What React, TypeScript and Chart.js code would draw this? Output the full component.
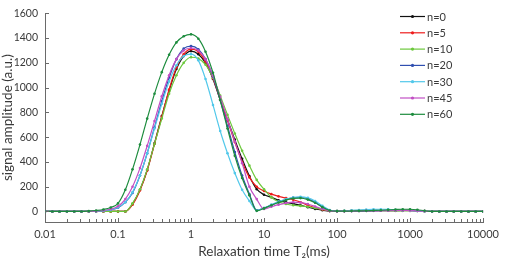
import React, { useEffect, useRef } from "react";
import { Chart, registerables } from "chart.js";
Chart.register(...registerables);

// Relaxation time grid (ms)
const T2 = [
  0.01, 0.0126, 0.0158, 0.02, 0.0251, 0.0316, 0.0398, 0.0501, 0.0631, 0.0794,
  0.1, 0.126, 0.158, 0.2, 0.251, 0.316, 0.398, 0.501, 0.631, 0.794,
  1, 1.26, 1.58, 2, 2.51, 3.16, 3.98, 5.01, 6.31, 7.94,
  10, 12.6, 15.8, 20, 25.1, 31.6, 39.8, 50.1, 63.1, 79.4,
  100, 126, 158, 200, 251, 316, 398, 501, 631, 794,
  1000, 1260, 1580, 2000, 2510, 3160, 3980, 5010, 6310, 7940,
  10000,
];

const N0 = [
  0, 0, 0, 0, 0, 0, 0, 0, 0, 0,
  0, 0, 60, 175, 335, 550, 770, 975, 1150, 1255,
  1295, 1270, 1200, 1070, 900, 740, 580, 425, 285, 180,
  135, 115, 90, 75, 63, 50, 35, 20, 10, 3,
  2, 3, 4, 5, 5, 6, 6, 7, 7, 8,
  8, 6, 3, 0, 0, 0, 0, 0, 0, 0,
  0,
];
const N5 = [
  0, 0, 0, 0, 0, 0, 0, 0, 0, 0,
  0, 0, 55, 170, 330, 545, 765, 985, 1165, 1270,
  1310, 1290, 1210, 1075, 905, 735, 560, 400, 275, 200,
  165, 140, 122, 108, 95, 75, 50, 30, 15, 5,
  3, 4, 6, 8, 9, 10, 10, 10, 10, 10,
  9, 6, 3, 0, 0, 0, 0, 0, 0, 0,
  0,
];
const N10 = [
  0, 0, 0, 0, 0, 0, 0, 0, 0, 0,
  0, 0, 65, 180, 340, 545, 750, 950, 1100, 1200,
  1245, 1235, 1185, 1080, 935, 780, 630, 490, 370, 255,
  180, 115, 78, 60, 50, 45, 38, 28, 18, 6,
  3, 6, 8, 9, 9, 8, 7, 6, 5, 5,
  4, 3, 1, 0, 0, 0, 0, 0, 0, 0,
  0,
];
const N20 = [
  0, 0, 0, 0, 0, 0, 1, 2, 6, 14,
  30, 75, 150, 290, 470, 680, 890, 1080, 1230, 1315,
  1335, 1310, 1230, 1090, 900, 690, 480, 290, 140, 10,
  28, 52, 76, 98, 112, 115, 103, 75, 38, 10,
  3, 3, 4, 5, 6, 7, 8, 9, 10, 10,
  9, 6, 3, 0, 0, 0, 0, 0, 0, 0,
  0,
];
const N30 = [
  0, 0, 0, 0, 0, 0, 1, 2, 6, 14,
  32, 75, 155, 290, 470, 670, 870, 1050, 1180, 1255,
  1270, 1220, 1070, 860, 650, 470, 310, 175, 85, 8,
  28, 55, 80, 100, 113, 118, 110, 85, 45, 12,
  4, 6, 9, 12, 15, 17, 18, 17, 14, 10,
  7, 4, 2, 0, 0, 0, 0, 0, 0, 0,
  0,
];
const N45 = [
  0, 0, 0, 0, 0, 0, 1, 3, 8, 18,
  42, 100, 200, 350, 530, 730, 930, 1100, 1230, 1300,
  1320, 1300, 1230, 1095, 925, 745, 565, 390, 200, 100,
  20, 38, 55, 68, 75, 72, 60, 40, 20, 5,
  2, 2, 3, 4, 5, 5, 6, 7, 8, 8,
  7, 5, 2, 0, 0, 0, 0, 0, 0, 0,
  0,
];
const N60 = [
  0, 0, 0, 0, 0, 0, 3, 8, 16, 32,
  65, 175, 340, 540, 750, 950, 1125, 1265, 1365, 1415,
  1430, 1395, 1290, 1120, 900, 670, 450, 270, 130, 5,
  25, 50, 72, 92, 105, 108, 96, 70, 35, 8,
  3, 3, 4, 5, 6, 8, 10, 13, 16, 18,
  18, 14, 6, 0, 0, 0, 0, 0, 0, 0,
  0,
];

const SERIES_NAMES = ["n=0", "n=5", "n=10", "n=20", "n=30", "n=45", "n=60"];
const SERIES_VALUES = [N0, N5, N10, N20, N30, N45, N60];
const SERIES_COLORS = ["#111111", "#ee1c1c", "#6cc83c", "#2f4fb0", "#52c8ea", "#c24fc4", "#1d8c3e"];

const Y_TICKS = [0, 200, 400, 600, 800, 1000, 1200, 1400, 1600];
const X_MAJOR = [0.01, 0.1, 1, 10, 100, 1000, 10000];
const X_MINOR_MULT = [2, 3, 4, 5, 6, 7, 8, 9];

const FONT = "Lato, 'Open Sans', sans-serif";
const AXIS_COLOR = "#6a6a6a";
const TEXT_COLOR = "#3a3a3a";

const decorPlugin = {
  id: "decor",
  afterDraw(chart: any) {
    const ctx = chart.ctx;
    const xs = chart.scales.x;
    const ys = chart.scales.y;
    const area = chart.chartArea;
    ctx.save();
    ctx.strokeStyle = AXIS_COLOR;
    ctx.lineWidth = 1;
    ctx.beginPath();
    Y_TICKS.forEach((v) => {
      const py = Math.round(ys.getPixelForValue(v)) + 0.5;
      ctx.moveTo(area.left, py);
      ctx.lineTo(area.left + 4, py);
    });
    X_MAJOR.forEach((d, i) => {
      const px = Math.round(xs.getPixelForValue(d)) + 0.5;
      ctx.moveTo(px, area.bottom);
      ctx.lineTo(px, area.bottom - 4);
      if (i < X_MAJOR.length - 1) {
        X_MINOR_MULT.forEach((m) => {
          const qx = Math.round(xs.getPixelForValue(d * m)) + 0.5;
          ctx.moveTo(qx, area.bottom);
          ctx.lineTo(qx, area.bottom - 3);
        });
      }
    });
    ctx.stroke();

    // legend
    const lx1 = 400;
    const lx2 = 425;
    ctx.font = `11px ${FONT}`;
    ctx.textBaseline = "middle";
    ctx.textAlign = "left";
    SERIES_NAMES.forEach((name, k) => {
      const yy = 16.5 + k * 16.3;
      ctx.strokeStyle = SERIES_COLORS[k];
      ctx.lineWidth = 1.2;
      ctx.beginPath();
      ctx.moveTo(lx1, yy);
      ctx.lineTo(lx2, yy);
      ctx.stroke();
      ctx.fillStyle = SERIES_COLORS[k];
      ctx.beginPath();
      ctx.arc((lx1 + lx2) / 2, yy, 1.6, 0, Math.PI * 2);
      ctx.fill();
      ctx.fillStyle = TEXT_COLOR;
      ctx.fillText(name, lx2 + 2, yy + 0.5);
    });
    ctx.restore();
  },
};

export default function App() {
  const ref = useRef<HTMLCanvasElement>(null);
  useEffect(() => {
    if (!ref.current) return;
    const chart = new Chart(ref.current, {
      type: "line",
      data: {
        datasets: SERIES_NAMES.map((name, k) => ({
          label: name,
          data: T2.map((t, i) => ({ x: t, y: SERIES_VALUES[k][i] })),
          borderColor: SERIES_COLORS[k],
          backgroundColor: SERIES_COLORS[k],
          borderWidth: 1.2,
          pointRadius: 1.3,
          pointBorderWidth: 0,
          pointBackgroundColor: SERIES_COLORS[k],
          cubicInterpolationMode: "monotone" as const,
          order: SERIES_NAMES.length - k,
        })),
      },
      options: {
        animation: false,
        responsive: false,
        devicePixelRatio: 1,
        layout: { padding: { top: 6, right: 16, left: 0, bottom: 0 } },
        plugins: { legend: { display: false }, tooltip: { enabled: false } },
        scales: {
          x: {
            type: "logarithmic",
            min: 0.01,
            max: 10000,
            afterBuildTicks: (s: any) => {
              s.ticks = X_MAJOR.map((v) => ({ value: v }));
            },
            afterFit: (s: any) => {
              s.height = 41;
            },
            grid: { drawOnChartArea: false, drawTicks: false },
            border: { display: true, color: AXIS_COLOR, width: 1 },
            ticks: {
              autoSkip: false,
              maxRotation: 0,
              padding: 6,
              color: TEXT_COLOR,
              font: { family: FONT, size: 11 },
              callback: (v: any) => String(v),
            },
            title: {
              display: true,
              text: "Relaxation time T₂(ms)",
              color: TEXT_COLOR,
              font: { family: FONT, size: 13.5 },
              padding: { top: 0, bottom: 3 },
            },
          },
          y: {
            type: "linear",
            min: -85,
            max: 1600,
            afterBuildTicks: (s: any) => {
              s.ticks = Y_TICKS.map((v) => ({ value: v }));
            },
            afterFit: (s: any) => {
              s.width = 45;
            },
            grid: { drawOnChartArea: false, drawTicks: false },
            border: { display: true, color: AXIS_COLOR, width: 1 },
            ticks: {
              padding: 7,
              color: TEXT_COLOR,
              font: { family: FONT, size: 10.5 },
              callback: (v: any) => String(v),
            },
            title: {
              display: true,
              text: "signal amplitude (a.u.)",
              color: TEXT_COLOR,
              font: { family: FONT, size: 13.5 },
              padding: { top: 0, bottom: 0 },
            },
          },
        },
      },
      plugins: [decorPlugin],
    });
    return () => chart.destroy();
  }, []);
  return (
    <div style={{ position: "absolute", left: 0, top: 0, width: 505, height: 263, background: "#fff" }}>
      <canvas ref={ref} width={505} height={263} />
    </div>
  );
}
